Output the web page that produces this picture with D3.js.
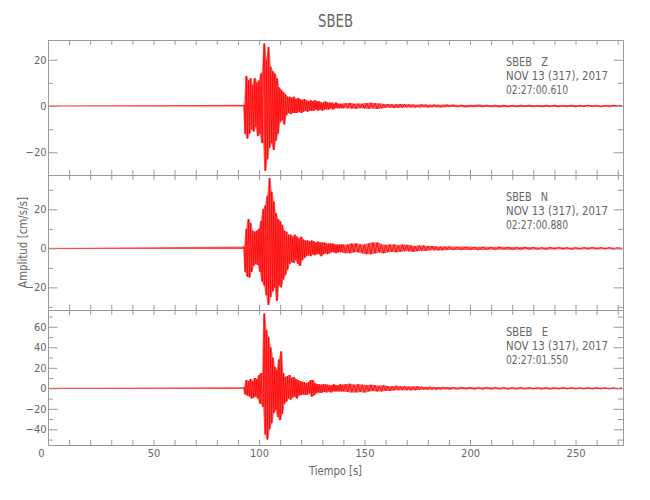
<!DOCTYPE html>
<html><head><meta charset="utf-8">
<script src="https://cdn.jsdelivr.net/npm/d3@7"></script>
<style>
body{margin:0;background:#fff}
svg text{font-family:"DejaVu Sans Condensed","DejaVu Sans",sans-serif;fill:#666}
</style>
</head><body><svg id="chart" width="650" height="500"></svg>
<script>
// ---------------- data ----------------
const chartTitle = "SBEB";
const stationLabels = ["SBEB   Z", "SBEB   N", "SBEB   E"];
const dateLabels = ["NOV 13 (317), 2017", "NOV 13 (317), 2017", "NOV 13 (317), 2017"];
const startTimes = ["02:27:00.610", "02:27:00.880", "02:27:01.550"];
const xLabel = "Tiempo [s]";
const yLabel = "Amplitud [cm/s/s]";
const xDomain = [0, 272.5];
const xTickLabels = [0, 50, 100, 150, 200, 250];
const yDomains = [[-29.8, 28.5], [-31.6, 37.6], [-55.3, 76.4]];
const yTickLabels = [[-20, 0, 20], [-20, 0, 20], [-40, -20, 0, 20, 40, 60]];

const preEvent = [[0, 0], [92.5, 0]];
const strongStart = 93, strongStep = 0.5;
const codaStart = 141, codaStep = 1;
const tailStart = 192, tailStep = 2;

// Z component
const zStrong = [0.5,-12,13,-14,11,-12,12,-10,9,-11,12,-9,10,-13,11,-12,14,-16,15,27,-28,20,-23,25.5,-18,17,-16,15,-19,14,-15,12,-12,8,-7,7,-6,6,-8,5,-4,4,-3,4,-3.5,3.5,-3,4,-3,3,-3,3.5,-2.5,3,-3,2.5,-2.5,3,-2,2.5,-2.5,2,-2,2.5,-2,2,-2,2.5,-1.5,2,-2,2,-1.5,1.5,-2,1.5,-1.5,2,-1.5,1.5,-1.5,1.5,-1,1.5,-1.5,1,-1,1.5,-1,1,-1,1,-1,1,-1];
const zCoda = [1.2,-1,1.3,-1.1,1,-1.2,1.1,-0.9,1,-1.1,1.3,-1.2,1.4,-1,1.2,-1.3,1.1,-1,0.9,-0.8,0.9,-0.7,0.8,-0.9,0.7,-0.8,0.9,-0.7,0.8,-0.6,0.7,-0.6,0.6,-0.7,0.5,-0.6,0.7,-0.5,0.6,-0.6,0.5,-0.5,0.6,-0.5,0.5,-0.6,0.5,-0.5,0.6,-0.4];
const zTail = [0.5,-0.4,0.4,-0.5,0.4,-0.4,0.5,-0.4,0.4,-0.4,0.4,-0.5,0.4,-0.4,0.3,-0.4,0.4,-0.3,0.4,-0.4,0.3,-0.4,0.4,-0.3,0.4,-0.4,0.3,-0.3,0.4,-0.4,0.3,-0.3,0.4,-0.3,0.3,-0.4,0.3,-0.3,0.4,-0.3,0.3];

// N component
const nStrong = [1,-12,10,-14.5,15,-15,13,-12,9,-9,8.5,-8,9,-8.5,10,-12,14,-17,20,-19,22,-24,27,-29,36,-25,29,-22,24,-20,18,-27,15,-19,14,-20,12,-16,9,-13.7,8.5,-11,7,-8,7,-7,6,-7.5,7,-6,6,-8,5,-9,6,-6,4.5,-5,4,-4,4,-3.5,3.5,-4,4,-3,3.5,-3.5,3,-3,3.5,-3,3,-4,3,-3,3,-2.5,2.5,-3,2.5,-2.5,2.5,-2,2.5,-2,2,-2.5,2,-2,2,-2,2,-2,2];
const nCoda = [-2.5,2,-2.5,2.5,-2,2.5,-2,2,-2.5,2,-3,2.5,-3,3,-2.5,3,-2,2,-2.5,1.8,-2,2,-1.8,2,-2,1.5,-1.8,2,-1.5,1.8,-1.5,1.5,-1.8,1.2,-1.5,1.5,-1.2,1.5,-1.3,1.2,-1,1.2,-1,1,-1.1,0.9,-1,1,-0.9,1];
const nTail = [-0.9,0.8,-0.8,0.9,-0.8,0.7,-0.8,0.8,-0.7,0.7,-0.7,0.8,-0.6,0.7,-0.7,0.6,-0.6,0.7,-0.6,0.6,-0.6,0.5,-0.6,0.6,-0.5,0.6,-0.5,0.5,-0.6,0.5,-0.5,0.5,-0.5,0.6,-0.5,0.5,-0.4,0.5,-0.5,0.4,-0.5];

// E component
const eStrong = [1,-6,8,-7,7,-8,9,-10,7,-9,10,-8,9,-10,13,-15,15,-14,-18,73,-45,57,-50,50,-40,40,-34,30,-24,21,-21,18,-28,28,-31,36,-25,15,-15,11,-13,12,-10,13,-11,10,-9,11,-8,9,-10,8,-7,7,-6.5,6.5,-6,6,-6.5,5,-6,6,-5,8,-8,8,-7,5,-5,4,-4,4,-4.5,3.5,-4,4,-3.5,4,-4,3.5,-3,3,-4,3,-3,4,-3,3,-3,3,-3,4,-3,3.5,-3];
const eCoda = [4,-3.5,4.5,-4,3.5,-4,4,-3.5,3.5,-4,3,-3,3.5,-2.5,3,-3,2.5,-3,3,-2.5,2,-2.5,2,-2,2.5,-2,2,-1.8,2,-2,1.8,-2,1.8,-1.8,2,-1.5,1.5,-1.5,1.2,-1.5,1.5,-1.2,1.3,-1.5,1.2,-1.2,1.3,-1,1.2,-1.2];
const eTail = [1,-1,1.1,-0.9,1,-1,0.9,-1,1,-0.9,0.9,-0.8,0.9,-0.9,0.8,-0.8,0.9,-0.8,0.8,-0.7,0.8,-0.8,0.7,-0.8,0.7,-0.7,0.8,-0.7,0.7,-0.7,0.6,-0.7,0.7,-0.6,0.7,-0.6,0.6,-0.7,0.6,-0.6,0.6];

const traces = [[zStrong, zCoda, zTail], [nStrong, nCoda, nTail], [eStrong, eCoda, eTail]];

// ---------------- layout ----------------
const left = 48, right = 623;
const panelTops = [40, 175, 310];
const panelH = 135;
const traceColor = "#ff0000";
const axisColor = "#9a9a9a";

const svg = d3.select("#chart");
const x = d3.scaleLinear().domain(xDomain).range([left, right]);

function buildSeries(parts) {
  const pts = preEvent.map(d => d.slice());
  const specs = [[strongStart, strongStep], [codaStart, codaStep], [tailStart, tailStep]];
  parts.forEach((arr, k) => {
    arr.forEach((v, i) => pts.push([specs[k][0] + i * specs[k][1], v]));
  });
  return pts;
}

function range(a, b, s) { const r = []; for (let v = a; v <= b + 1e-9; v += s) r.push(+v.toFixed(6)); return r; }

function styleAxis(g) {
  g.selectAll(".domain").attr("stroke", axisColor);
  g.selectAll(".tick line").attr("stroke", axisColor);
  g.selectAll(".tick text").attr("fill", "#666")
    .style("font-family", '"DejaVu Sans Condensed","DejaVu Sans",sans-serif')
    .style("font-size", "11px");
}

const xMinor = range(0, 270, 10);

panelTops.forEach((top, i) => {
  const bottom = top + panelH;
  const y = d3.scaleLinear().domain(yDomains[i]).range([bottom, top]);
  const yMinor = range(Math.ceil(yDomains[i][0] / 10) * 10, Math.floor(yDomains[i][1] / 10) * 10, 10)
    .filter(v => !yTickLabels[i].includes(v));

  svg.append("clipPath").attr("id", "clip" + i)
    .append("rect").attr("x", left).attr("y", top).attr("width", right - left).attr("height", panelH);

  // trace: band spanned by neighbouring samples + the sample line itself
  const series = buildSeries(traces[i]);
  const band = series.map((d, k) => {
    const nb = [series[k - 1], d, series[k + 1]].filter(Boolean).map(p => p[1]);
    return [d[0], d3.min(nb), d3.max(nb)];
  });
  const g = svg.append("g").attr("clip-path", `url(#clip${i})`);
  g.append("path")
    .attr("d", d3.area().x(d => x(d[0])).y0(d => y(d[1])).y1(d => y(d[2]))(band))
    .attr("fill", traceColor).attr("fill-opacity", 0.65).attr("stroke", "none");
  g.append("path")
    .attr("d", d3.line().x(d => x(d[0])).y(d => y(d[1]))(series))
    .attr("fill", "none").attr("stroke", traceColor).attr("stroke-width", 0.8);

  // axes
  const gl = svg.append("g").attr("transform", `translate(${left},0)`)
    .call(d3.axisLeft(y).tickValues(yTickLabels[i]).tickSizeInner(-9.5).tickSizeOuter(0).tickPadding(1.5));
  styleAxis(gl);
  const glm = svg.append("g").attr("transform", `translate(${left},0)`)
    .call(d3.axisLeft(y).tickValues(yMinor).tickSizeInner(-5).tickSizeOuter(0).tickFormat(""));
  styleAxis(glm);
  const gr = svg.append("g").attr("transform", `translate(${right},0)`)
    .call(d3.axisRight(y).tickValues(yTickLabels[i]).tickSizeInner(-9.5).tickSizeOuter(0).tickFormat(""));
  styleAxis(gr);
  const grm = svg.append("g").attr("transform", `translate(${right},0)`)
    .call(d3.axisRight(y).tickValues(yMinor).tickSizeInner(-5).tickSizeOuter(0).tickFormat(""));
  styleAxis(grm);

  const gt = svg.append("g").attr("transform", `translate(0,${top})`)
    .call(d3.axisTop(x).tickValues(xMinor).tickSizeInner(-5).tickSizeOuter(0).tickFormat(""));
  styleAxis(gt);
  const gb = svg.append("g").attr("transform", `translate(0,${bottom})`)
    .call(d3.axisBottom(x).tickValues(xMinor).tickSizeInner(-5).tickSizeOuter(0).tickFormat(""));
  styleAxis(gb);

  if (i === panelTops.length - 1) {
    const gx = svg.append("g").attr("transform", `translate(0,${bottom})`)
      .call(d3.axisBottom(x).tickValues(xTickLabels).tickSize(0).tickPadding(4.5));
    styleAxis(gx);
    gx.select(".domain").remove();
    gx.selectAll(".tick").filter(d => d === 0).select("text").attr("x", -7);
  }

  // annotations
  const ann = [stationLabels[i], dateLabels[i], startTimes[i]];
  const widths = [42, 102, 62];
  ann.forEach((t, k) => {
    svg.append("text")
      .attr("x", 506).attr("y", top + 26 + k * 14)
      .attr("textLength", widths[k]).attr("lengthAdjust", "spacingAndGlyphs")
      .style("font-size", "12.5px").style("white-space", "pre")
      .text(t);
  });
});

// title
svg.append("text").attr("x", (left + right) / 2).attr("y", 27)
  .attr("text-anchor", "middle").attr("textLength", 35).attr("lengthAdjust", "spacingAndGlyphs")
  .style("font-size", "18px").text(chartTitle);

// x label
svg.append("text").attr("x", (left + right) / 2).attr("y", 475)
  .attr("text-anchor", "middle").attr("textLength", 53).attr("lengthAdjust", "spacingAndGlyphs")
  .style("font-size", "12.5px").style("white-space", "pre").text(xLabel);

// y label
svg.append("text").attr("transform", "translate(26.5,242.5) rotate(-90)")
  .attr("text-anchor", "middle").attr("textLength", 91).attr("lengthAdjust", "spacingAndGlyphs")
  .style("font-size", "12.5px").style("white-space", "pre").text(yLabel);
</script>
</body></html>
